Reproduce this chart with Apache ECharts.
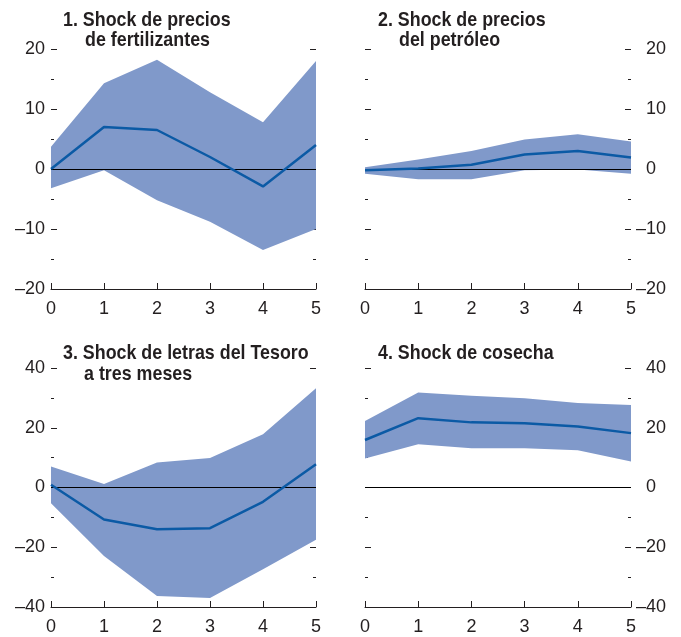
<!DOCTYPE html>
<html>
<head>
<meta charset="utf-8">
<script src="https://cdn.jsdelivr.net/npm/echarts@6/dist/echarts.min.js"></script>
<style>
html, body { margin: 0; padding: 0; background: #fff; }
#chart { width: 681px; height: 637px; }
</style>
</head>
<body>
<div id="chart"></div>
<script>
// horizonte (x)
const periods = ['0', '1', '2', '3', '4', '5']

// 1. Shock de precios de fertilizantes
const fertMid = [0, 7.0, 6.5, 2.0, -2.9, 4.0]
const fertHigh = [3.7, 14.3, 18.2, 12.8, 7.8, 18.0]
const fertLow = [-3.2, -0.2, -5.2, -8.8, -13.5, -10.0]

// 2. Shock de precios del petróleo
const oilMid = [-0.2, 0.1, 0.7, 2.4, 3.0, 1.9]
const oilHigh = [0.3, 1.6, 3.0, 4.9, 5.8, 4.6]
const oilLow = [-0.8, -1.7, -1.7, -0.2, -0.1, -0.8]

// 3. Shock de letras del Tesoro a tres meses
const tbillMid = [0.9, -10.7, -14.0, -13.6, -4.8, 7.8]
const tbillHigh = [7.0, 1.2, 8.4, 9.9, 17.8, 33.2]
const tbillLow = [-5.3, -22.9, -36.3, -37.0, -27.4, -17.5]

// 4. Shock de cosecha
const cropMid = [15.9, 23.2, 21.8, 21.5, 20.4, 18.2]
const cropHigh = [22.3, 31.8, 30.7, 29.9, 28.3, 27.6]
const cropLow = [9.7, 14.5, 13.1, 13.1, 12.5, 8.7]

// títulos (primera línea, segunda línea)
const titleLines = [
  ['1. Shock de precios', 'de fertilizantes'],
  ['2. Shock de precios', 'del petróleo'],
  ['3. Shock de letras del Tesoro', 'a tres meses'],
  ['4. Shock de cosecha', '']
]

// escalas de los ejes y
const yRanges = [
  { min: -20, max: 20, interval: 10 },
  { min: -20, max: 20, interval: 10 },
  { min: -40, max: 40, interval: 20 },
  { min: -40, max: 40, interval: 20 }
]

const panels = [
  { mid: fertMid, high: fertHigh, low: fertLow },
  { mid: oilMid, high: oilHigh, low: oilLow },
  { mid: tbillMid, high: tbillHigh, low: tbillLow },
  { mid: cropMid, high: cropHigh, low: cropLow }
]

const FONT = '"Liberation Sans", Arial, sans-serif'
const TEXT = '#231f20'
const BAND = '#8099ca'
const LINE = '#0b5aa5'

const grids = [
  { left: 51, top: 49, width: 265, height: 240 },
  { left: 365, top: 49, width: 266, height: 240 },
  { left: 51, top: 368, width: 265, height: 239 },
  { left: 365, top: 368, width: 266, height: 239 }
]

const titlePos = [
  [[63, 10], [85, 30]],
  [[378, 10], [399, 30]],
  [[63, 343], [84, 364]],
  [[378, 343], [399, 364]]
]

const dash = '\u2013'
function fmtLeft(v) {
  return v < 0 ? dash + Math.abs(v) : String(v)
}
function fmtRight(v) {
  // signo menos colgado: los positivos llevan un guion invisible
  return v < 0 ? dash + Math.abs(v) : '{h|' + dash + '}' + v
}

// títulos como texto condensado (escala horizontal)
const graphic = []
titleLines.forEach((lines, i) => {
  lines.forEach((t, j) => {
    if (!t) return
    graphic.push({
      type: 'text',
      x: titlePos[i][j][0],
      y: titlePos[i][j][1],
      scaleX: 0.85,
      silent: true,
      style: {
        text: t,
        font: 'bold 21px "Liberation Sans", Arial, sans-serif',
        fill: TEXT,
        textVerticalAlign: 'top'
      }
    })
  })
})

const xAxis = []
const yAxis = []
const series = []

panels.forEach((p, i) => {
  const isLeft = i % 2 === 0
  xAxis.push({
    gridIndex: i,
    type: 'category',
    boundaryGap: false,
    data: periods,
    axisLine: { onZero: false, lineStyle: { color: TEXT, width: 1 } },
    axisTick: { inside: true, length: 6, lineStyle: { color: TEXT } },
    axisLabel: { fontFamily: FONT, fontSize: 18, color: TEXT, margin: 11 },
    splitLine: { show: false }
  })
  ;['left', 'right'].forEach(pos => {
    const labeled = (pos === 'left') === isLeft
    yAxis.push({
      gridIndex: i,
      type: 'value',
      position: pos,
      min: yRanges[i].min,
      max: yRanges[i].max,
      interval: yRanges[i].interval,
      axisLine: { show: false },
      axisTick: { show: true, inside: true, length: 6, lineStyle: { color: TEXT } },
      minorTick: { show: true, splitNumber: 2, length: 3, lineStyle: { color: TEXT } },
      splitLine: { show: false },
      minorSplitLine: { show: false },
      axisLabel: {
        show: labeled,
        fontFamily: FONT,
        fontSize: 18,
        color: TEXT,
        margin: pos === 'left' ? 6 : 5,
        formatter: pos === 'left' ? fmtLeft : fmtRight,
        rich: { h: { color: 'rgba(0,0,0,0)', fontFamily: FONT, fontSize: 18 } }
      }
    })
  })
  const yIdx = i * 2
  const width = p.high.map((h, k) => +(h - p.low[k]).toFixed(2))
  series.push({
    type: 'line',
    xAxisIndex: i,
    yAxisIndex: yIdx,
    data: p.low,
    stack: 'band' + i,
    stackStrategy: 'all',
    symbol: 'none',
    lineStyle: { opacity: 0 },
    silent: true
  })
  series.push({
    type: 'line',
    xAxisIndex: i,
    yAxisIndex: yIdx,
    data: width,
    stack: 'band' + i,
    stackStrategy: 'all',
    symbol: 'none',
    lineStyle: { opacity: 0 },
    areaStyle: { color: BAND, opacity: 1 },
    silent: true,
    markLine: {
      silent: true,
      symbol: ['none', 'none'],
      label: { show: false },
      lineStyle: { color: '#000', width: 1, type: 'solid' },
      data: [{ yAxis: 0 }]
    }
  })
  series.push({
    type: 'line',
    xAxisIndex: i,
    yAxisIndex: yIdx,
    data: p.mid,
    symbol: 'none',
    z: 5,
    lineStyle: { color: LINE, width: 2.5 }
  })
})

const chart = echarts.init(document.getElementById('chart'))
chart.setOption({
  animation: false,
  backgroundColor: '#fff',
  graphic: graphic,
  grid: grids,
  xAxis: xAxis,
  yAxis: yAxis,
  series: series
})
</script>
</body>
</html>
